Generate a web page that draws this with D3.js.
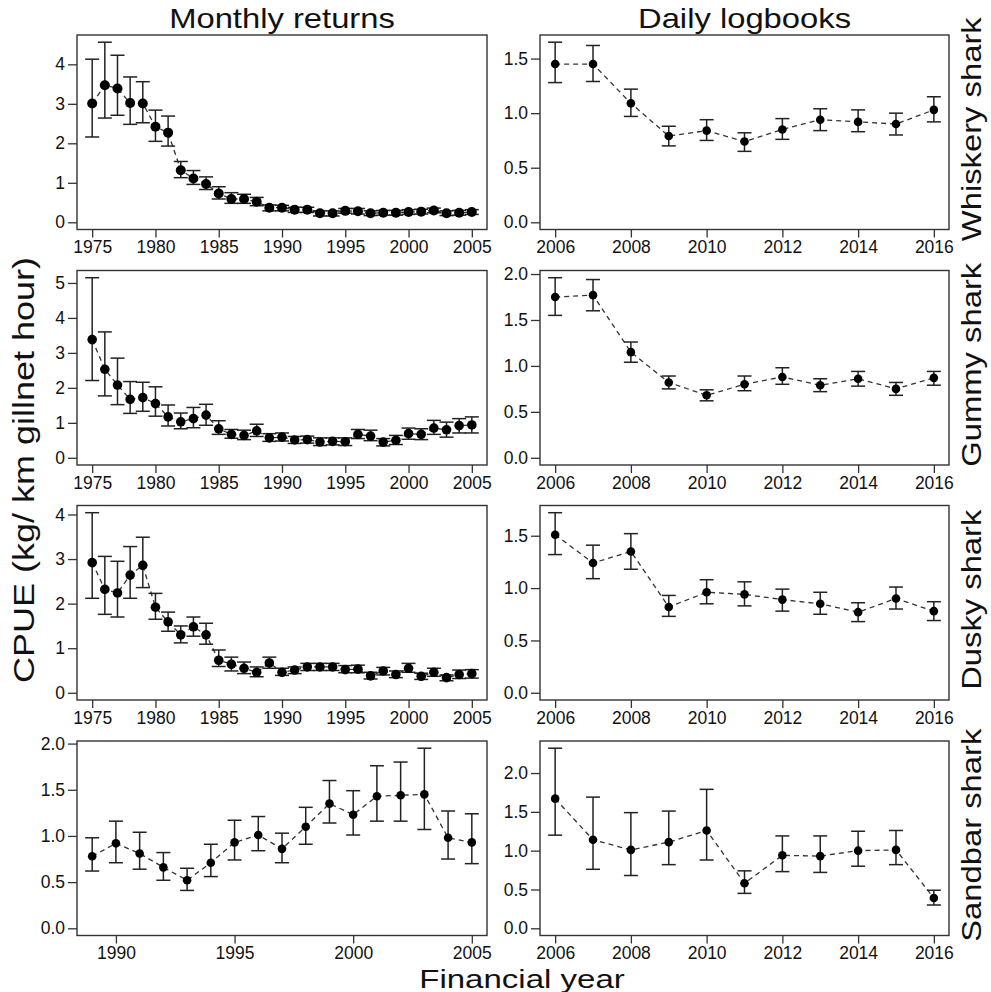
<!DOCTYPE html>
<html><head><meta charset="utf-8">
<script src="https://cdn.jsdelivr.net/npm/d3@7"></script>
<style>
html,body{margin:0;padding:0;background:#fff;}
text{font-family:"Liberation Sans",Arial,sans-serif;fill:#111;}
</style></head>
<body><svg id="chart" width="991" height="992"></svg>
<script>
// ---------- data ----------
const monthlyYears = [1975,1976,1977,1978,1979,1980,1981,1982,1983,1984,1985,1986,1987,1988,1989,1990,1991,1992,1993,1994,1995,1996,1997,1998,1999,2000,2001,2002,2003,2004,2005];
const sandbarMonthlyYears = [1989,1990,1991,1992,1993,1994,1995,1996,1997,1998,1999,2000,2001,2002,2003,2004,2005];
const dailyYears = [2006,2007,2008,2009,2010,2011,2012,2013,2014,2015,2016];

const whiskeryMonthlyCPUE  = [3.01,3.47,3.39,3.02,3.01,2.42,2.27,1.32,1.11,0.97,0.73,0.59,0.59,0.52,0.37,0.37,0.32,0.32,0.23,0.23,0.29,0.28,0.23,0.24,0.24,0.26,0.27,0.30,0.23,0.24,0.26];
const whiskeryMonthlyLower = [2.16,2.64,2.71,2.48,2.52,2.05,1.93,1.13,0.96,0.83,0.59,0.48,0.48,0.42,0.29,0.29,0.25,0.25,0.16,0.16,0.23,0.21,0.17,0.18,0.18,0.20,0.21,0.24,0.17,0.18,0.20];
const whiskeryMonthlyUpper = [4.13,4.56,4.23,3.68,3.56,2.84,2.69,1.54,1.31,1.15,0.90,0.75,0.71,0.63,0.44,0.43,0.38,0.38,0.29,0.29,0.35,0.35,0.29,0.30,0.30,0.32,0.33,0.36,0.29,0.30,0.32];

const whiskeryDailyCPUE  = [1.45,1.45,1.09,0.79,0.84,0.74,0.85,0.94,0.92,0.90,1.03];
const whiskeryDailyLower = [1.28,1.29,0.97,0.70,0.75,0.65,0.76,0.84,0.83,0.80,0.92];
const whiskeryDailyUpper = [1.65,1.62,1.22,0.88,0.94,0.82,0.95,1.04,1.03,1.00,1.15];

const gummyMonthlyCPUE  = [3.38,2.53,2.08,1.67,1.72,1.55,1.17,1.03,1.12,1.22,0.83,0.67,0.64,0.77,0.57,0.59,0.51,0.52,0.45,0.47,0.46,0.67,0.62,0.45,0.50,0.69,0.67,0.85,0.80,0.92,0.94];
const gummyMonthlyLower = [2.21,1.77,1.52,1.27,1.33,1.19,0.91,0.83,0.86,0.93,0.67,0.56,0.52,0.61,0.47,0.48,0.41,0.42,0.35,0.37,0.35,0.55,0.49,0.34,0.38,0.53,0.52,0.67,0.59,0.71,0.71];
const gummyMonthlyUpper = [5.15,3.60,2.85,2.18,2.16,2.03,1.51,1.28,1.44,1.53,1.06,0.81,0.79,0.96,0.69,0.71,0.61,0.62,0.57,0.57,0.57,0.81,0.79,0.55,0.64,0.85,0.83,1.07,1.02,1.12,1.17];

const gummyDailyCPUE  = [1.75,1.77,1.15,0.82,0.68,0.80,0.88,0.79,0.86,0.75,0.87];
const gummyDailyLower = [1.55,1.60,1.04,0.75,0.62,0.73,0.80,0.72,0.78,0.68,0.79];
const gummyDailyUpper = [1.96,1.94,1.26,0.89,0.74,0.89,0.98,0.86,0.94,0.82,0.94];

const duskyMonthlyCPUE  = [2.92,2.32,2.24,2.64,2.86,1.92,1.59,1.30,1.48,1.30,0.73,0.64,0.55,0.46,0.67,0.46,0.51,0.58,0.58,0.58,0.52,0.53,0.38,0.49,0.41,0.55,0.37,0.46,0.34,0.41,0.43];
const duskyMonthlyLower = [2.12,1.76,1.70,2.12,2.36,1.65,1.38,1.12,1.27,1.09,0.59,0.49,0.43,0.36,0.55,0.39,0.43,0.50,0.50,0.50,0.45,0.45,0.31,0.40,0.34,0.46,0.30,0.37,0.27,0.32,0.33];
const duskyMonthlyUpper = [4.04,3.06,2.95,3.28,3.49,2.23,1.81,1.50,1.70,1.56,0.96,0.80,0.69,0.58,0.80,0.55,0.58,0.66,0.66,0.66,0.61,0.62,0.46,0.57,0.49,0.66,0.44,0.55,0.40,0.51,0.52];

const duskyDailyCPUE  = [1.51,1.24,1.35,0.82,0.96,0.94,0.89,0.85,0.77,0.90,0.78];
const duskyDailyLower = [1.32,1.09,1.18,0.73,0.85,0.83,0.78,0.75,0.68,0.80,0.69];
const duskyDailyUpper = [1.72,1.41,1.52,0.93,1.08,1.06,0.99,0.96,0.86,1.01,0.87];

const sandbarMonthlyCPUE  = [0.78,0.92,0.81,0.66,0.52,0.71,0.93,1.01,0.86,1.10,1.35,1.23,1.43,1.44,1.45,0.98,0.93];
const sandbarMonthlyLower = [0.62,0.71,0.64,0.52,0.41,0.56,0.74,0.84,0.71,0.91,1.14,1.01,1.16,1.16,1.07,0.75,0.70];
const sandbarMonthlyUpper = [0.98,1.16,1.04,0.82,0.65,0.91,1.17,1.21,1.03,1.31,1.60,1.49,1.76,1.80,1.95,1.27,1.24];

const sandbarDailyCPUE  = [1.67,1.14,1.01,1.11,1.26,0.58,0.94,0.93,1.00,1.01,0.39];
const sandbarDailyLower = [1.20,0.76,0.68,0.82,0.88,0.45,0.73,0.72,0.80,0.82,0.30];
const sandbarDailyUpper = [2.32,1.69,1.49,1.51,1.79,0.74,1.19,1.19,1.25,1.26,0.49];

const columnTitles = ["Monthly returns","Daily logbooks"];
const speciesLabels = ["Whiskery shark","Gummy shark","Dusky shark","Sandbar shark"];
const monthlyXTicks = [1975,1980,1985,1990,1995,2000,2005];
const sandbarMonthlyXTicks = [1990,1995,2000,2005];
const dailyXTicks = [2006,2008,2010,2012,2014,2016];
const yTicksWhiskeyMonthly = [0,1,2,3,4];
const yTicksGummyMonthly = [0,1,2,3,4,5];
const yTicksDuskyMonthly = [0,1,2,3,4];
const yTicksHalfTo15 = [0,0.5,1.0,1.5];
const yTicksHalfTo20 = [0,0.5,1.0,1.5,2.0];
const yAxisTitle = "CPUE (kg/ km gillnet hour)";
const xAxisTitle = "Financial year";

// ---------- panel definitions ----------
const panels = [
 {row:0,col:0,years:monthlyYears,mean:whiskeryMonthlyCPUE,lo:whiskeryMonthlyLower,hi:whiskeryMonthlyUpper,xt:monthlyXTicks,yt:yTicksWhiskeyMonthly,fmt:"d",r:5},
 {row:0,col:1,years:dailyYears,mean:whiskeryDailyCPUE,lo:whiskeryDailyLower,hi:whiskeryDailyUpper,xt:dailyXTicks,yt:yTicksHalfTo15,fmt:".1f",r:4.3},
 {row:1,col:0,years:monthlyYears,mean:gummyMonthlyCPUE,lo:gummyMonthlyLower,hi:gummyMonthlyUpper,xt:monthlyXTicks,yt:yTicksGummyMonthly,fmt:"d",r:4.8},
 {row:1,col:1,years:dailyYears,mean:gummyDailyCPUE,lo:gummyDailyLower,hi:gummyDailyUpper,xt:dailyXTicks,yt:yTicksHalfTo20,fmt:".1f",r:4.3},
 {row:2,col:0,years:monthlyYears,mean:duskyMonthlyCPUE,lo:duskyMonthlyLower,hi:duskyMonthlyUpper,xt:monthlyXTicks,yt:yTicksDuskyMonthly,fmt:"d",r:4.8},
 {row:2,col:1,years:dailyYears,mean:duskyDailyCPUE,lo:duskyDailyLower,hi:duskyDailyUpper,xt:dailyXTicks,yt:yTicksHalfTo15,fmt:".1f",r:4.3},
 {row:3,col:0,years:sandbarMonthlyYears,mean:sandbarMonthlyCPUE,lo:sandbarMonthlyLower,hi:sandbarMonthlyUpper,xt:sandbarMonthlyXTicks,yt:yTicksHalfTo20,fmt:".1f",r:4.3},
 {row:3,col:1,years:dailyYears,mean:sandbarDailyCPUE,lo:sandbarDailyLower,hi:sandbarDailyUpper,xt:dailyXTicks,yt:yTicksHalfTo20,fmt:".1f",r:4.3}
];

// ---------- layout ----------
const colX = [77, 540];
const panelW = [410, 409];
const rowY = [35, 270.5, 505.5, 741];
const panelH = 194.5;
const svg = d3.select("#chart");

panels.forEach(p => {
  const x0 = colX[p.col], y0 = rowY[p.row], w = panelW[p.col], h = panelH;
  const g = svg.append("g").attr("transform", `translate(${x0},${y0})`);
  const xmin = d3.min(p.years), xmax = d3.max(p.years), xr = xmax - xmin;
  const ymax = d3.max(p.hi);
  const x = d3.scaleLinear().domain([xmin - 0.04*xr, xmax + 0.04*xr]).range([0, w]);
  const y = d3.scaleLinear().domain([-0.04*ymax, ymax*1.04]).range([h, 0]);

  // axes
  const xa = g.append("g").attr("transform", `translate(0,${h})`)
    .call(d3.axisBottom(x).tickValues(p.xt).tickFormat(d3.format("d")).tickSize(8).tickPadding(3));
  const ya = g.append("g")
    .call(d3.axisLeft(y).tickValues(p.yt).tickFormat(d3.format(p.fmt)).tickSize(9).tickPadding(3));
  [xa, ya].forEach(a => {
    a.select(".domain").remove();
    a.selectAll(".tick line").attr("stroke", "#333").attr("stroke-width", 1.3);
    a.selectAll(".tick text").attr("font-size", 17.5).attr("fill", "#222")
      .attr("font-family", "'Liberation Sans', Arial, sans-serif");
  });
  xa.selectAll(".tick text").attr("dy", "0.72em");

  // box
  g.append("rect").attr("x", 0).attr("y", 0).attr("width", w).attr("height", h)
    .attr("fill", "none").attr("stroke", "#333").attr("stroke-width", 1.4);

  const pts = p.years.map((yr, i) => ({yr, m: p.mean[i], lo: p.lo[i], hi: p.hi[i]}));

  // dashed line
  g.append("path").datum(pts)
    .attr("d", d3.line().x(d => x(d.yr)).y(d => y(d.m)))
    .attr("fill", "none").attr("stroke", "#333").attr("stroke-width", 1.3)
    .attr("stroke-dasharray", "5,4");

  // error bars
  const cap = 7;
  const eb = g.append("g").attr("stroke", "#222").attr("stroke-width", 1.5);
  eb.selectAll(".v").data(pts).join("line")
    .attr("x1", d => x(d.yr)).attr("x2", d => x(d.yr))
    .attr("y1", d => y(d.lo)).attr("y2", d => y(d.hi));
  eb.selectAll(".t").data(pts).join("line")
    .attr("x1", d => x(d.yr) - cap).attr("x2", d => x(d.yr) + cap)
    .attr("y1", d => y(d.hi)).attr("y2", d => y(d.hi));
  eb.selectAll(".b").data(pts).join("line")
    .attr("x1", d => x(d.yr) - cap).attr("x2", d => x(d.yr) + cap)
    .attr("y1", d => y(d.lo)).attr("y2", d => y(d.lo));

  // points
  g.append("g").selectAll("circle").data(pts).join("circle")
    .attr("cx", d => x(d.yr)).attr("cy", d => y(d.m)).attr("r", p.r).attr("fill", "#000");
});

// column titles
columnTitles.forEach((t, i) => {
  const cx = colX[i] + panelW[i] / 2;
  svg.append("text").attr("transform", `translate(${cx},28) scale(1.17,1)`)
    .attr("text-anchor", "middle").attr("font-size", 28).attr("fill", "#000").text(t);
});

// species labels (right side)
speciesLabels.forEach((t, i) => {
  const cy = rowY[i] + panelH / 2 - 3;
  svg.append("text").attr("transform", `translate(981,${cy}) rotate(-90) scale(1.17,1)`)
    .attr("text-anchor", "middle").attr("font-size", 28).attr("fill", "#000").text(t);
});

// y axis title
svg.append("text").attr("transform", `translate(34,470) rotate(-90) scale(1.2,1)`)
  .attr("text-anchor", "middle").attr("font-size", 30).attr("fill", "#000").text(yAxisTitle);

// x axis title
svg.append("text").attr("transform", `translate(522,988) scale(1.27,1)`)
  .attr("text-anchor", "middle").attr("font-size", 26).attr("fill", "#000").text(xAxisTitle);
</script>
</body></html>
